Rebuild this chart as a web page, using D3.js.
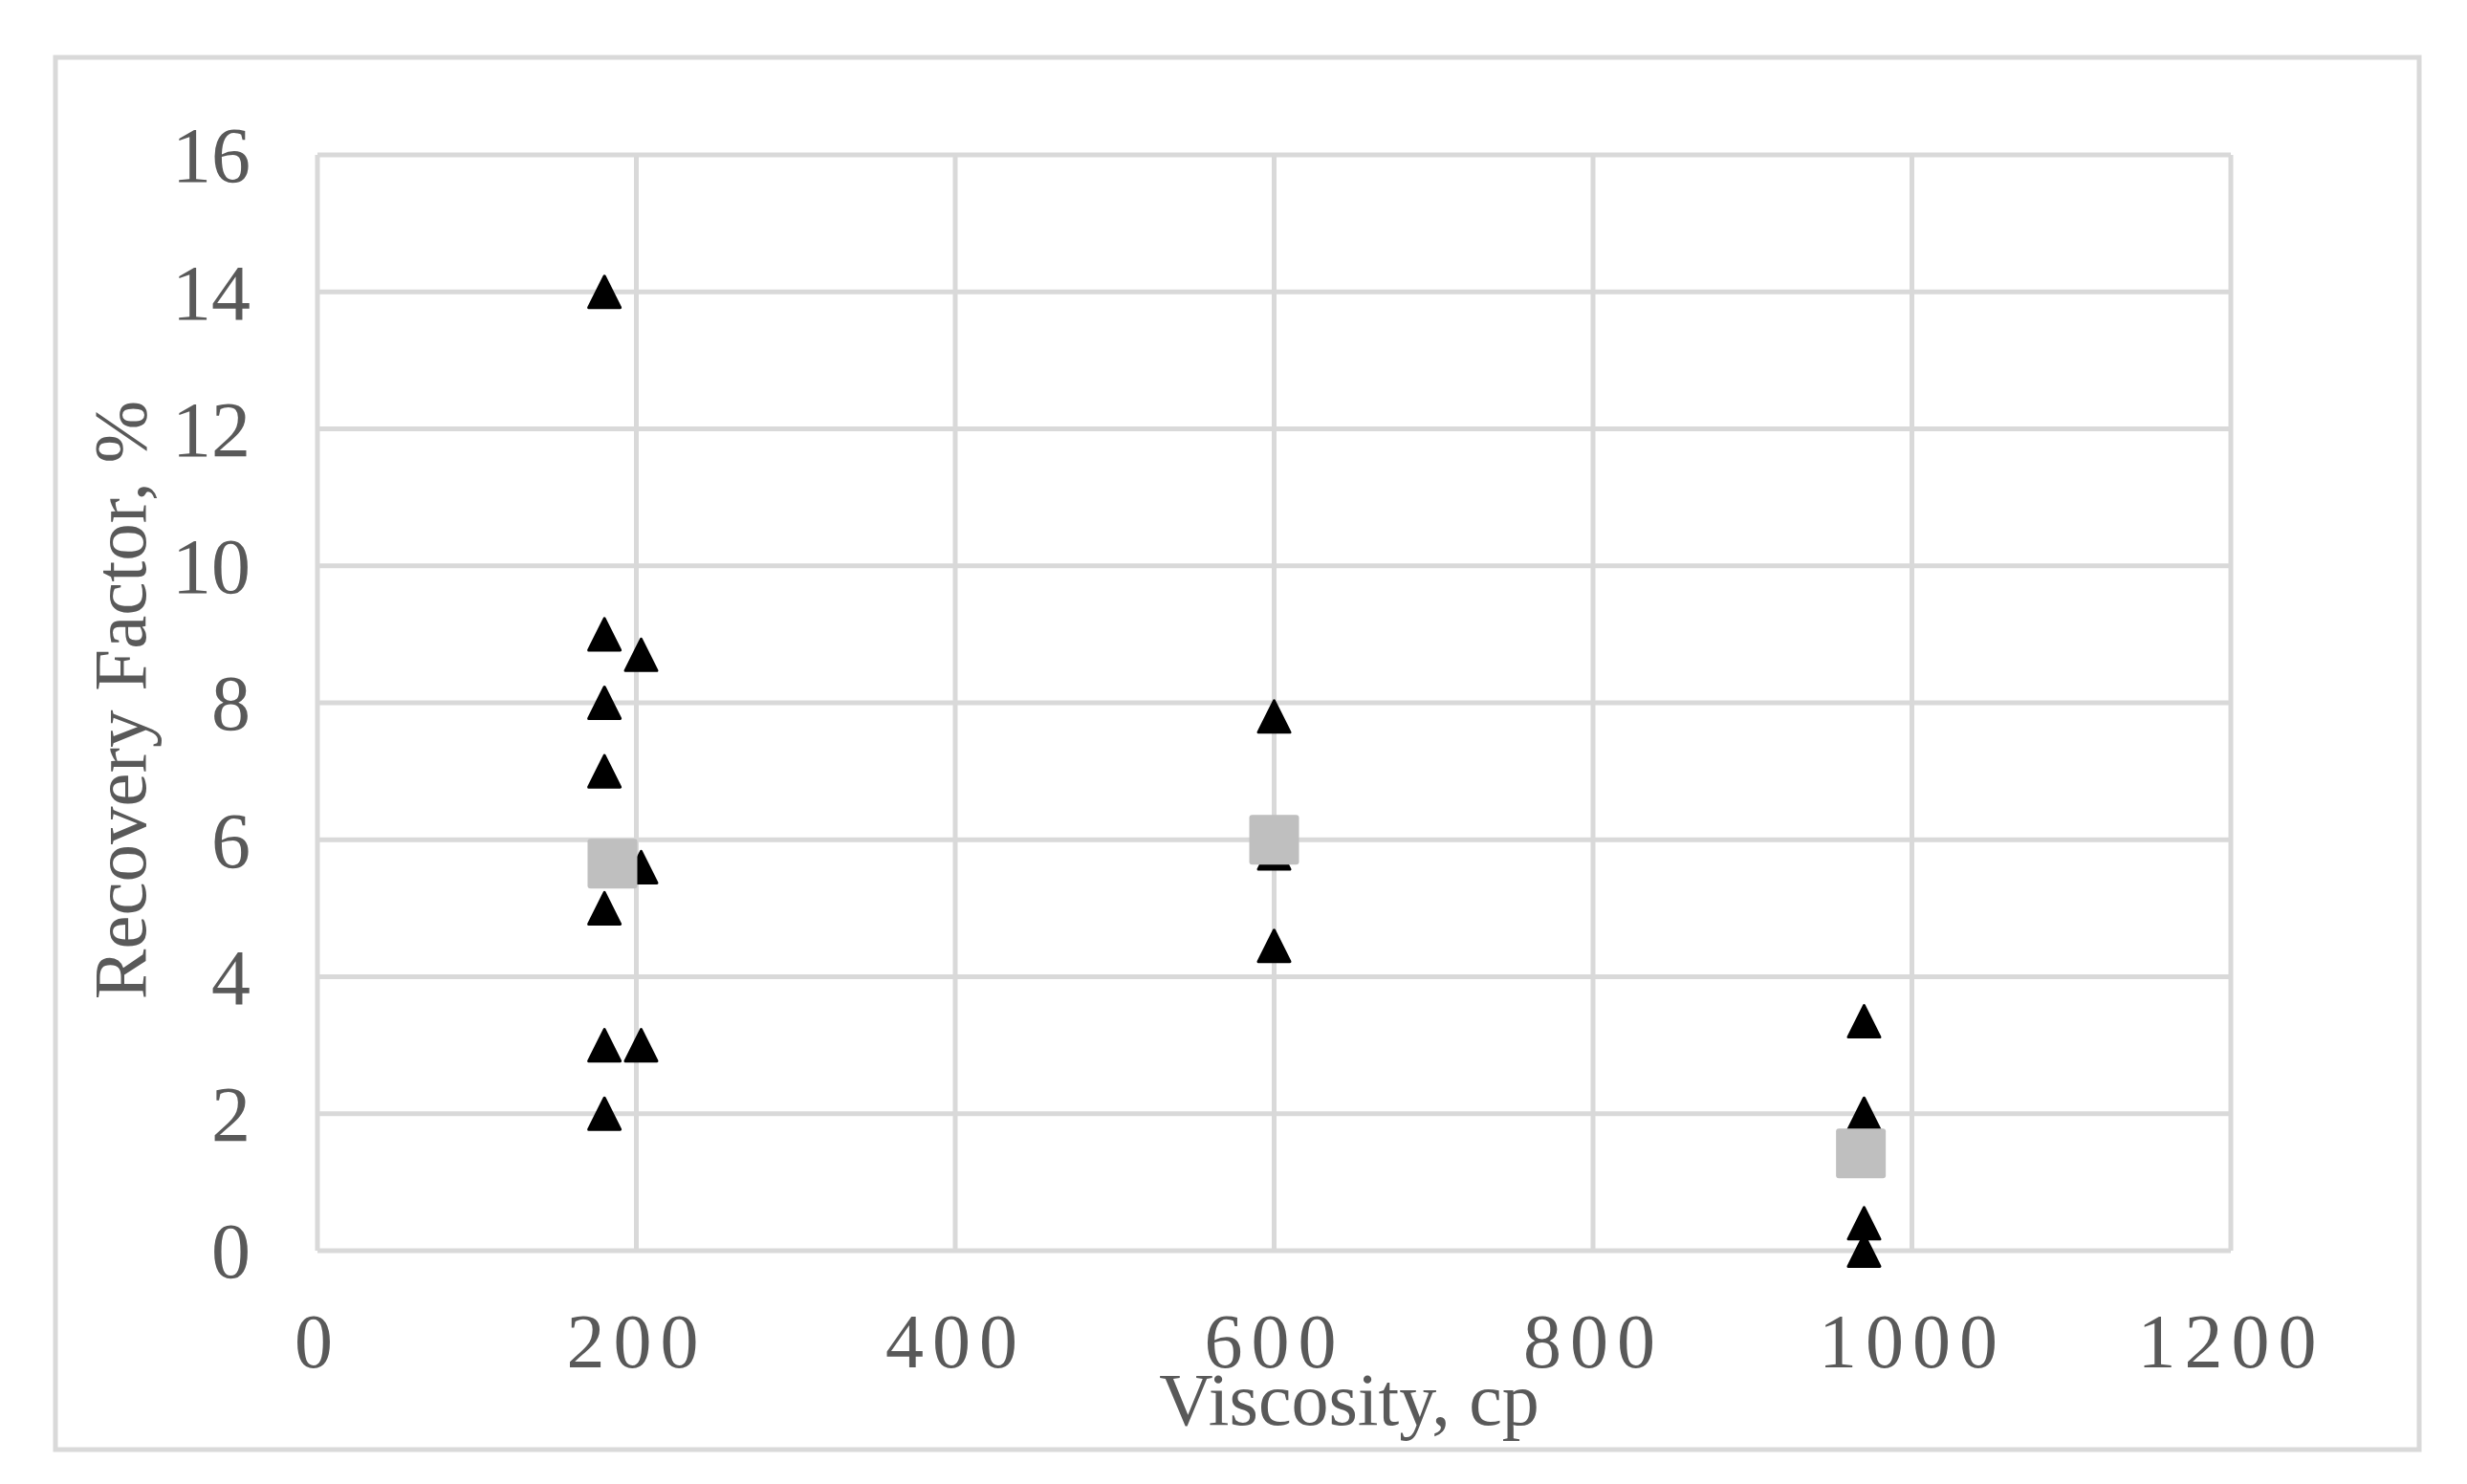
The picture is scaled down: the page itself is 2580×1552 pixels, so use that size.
<!DOCTYPE html>
<html>
<head>
<meta charset="utf-8">
<script src="https://cdn.jsdelivr.net/npm/d3@7"></script>
<style>
  html, body { margin: 0; padding: 0; background: #ffffff; }
  svg { display: block; }
  text { font-family: "Liberation Serif", "Times New Roman", serif; fill: #595959; }
</style>
</head>
<body>
<svg id="chart" width="2580" height="1552"></svg>
<script>
// ---- data ----
const triViscosity = [180, 180, 180, 180, 180, 180, 180, 203, 203, 203, 600, 600, 600, 970, 970, 970, 970];
const triRecovery  = [14, 9, 8, 7, 5, 3, 2, 8.7, 5.6, 3, 7.8, 5.8, 4.45, 3.35, 2.0, 0.4, 0];
const avgViscosity = [185, 600, 968];
const avgRecovery  = [5.65, 6.0, 1.42];
const xTicks = [0, 200, 400, 600, 800, 1000, 1200];
const yTicks = [0, 2, 4, 6, 8, 10, 12, 14, 16];
const xTitle = "Viscosity, cp";
const yTitle = "Recovery Factor, %";

// ---- layout ----
const W = 2580, H = 1552;
const plot = { left: 332, right: 2333, top: 162, bottom: 1308 };
const gridColor = "#d9d9d9";

const svg = d3.select("#chart");
svg.append("rect").attr("width", W).attr("height", H).attr("fill", "#ffffff");

// outer chart border
svg.append("rect")
  .attr("x", 58).attr("y", 60)
  .attr("width", 2530 - 58).attr("height", 1516 - 60)
  .attr("fill", "none").attr("stroke", gridColor).attr("stroke-width", 5);

const x = d3.scaleLinear().domain([0, 1200]).range([plot.left, plot.right]);
const y = d3.scaleLinear().domain([0, 16]).range([plot.bottom, plot.top]);

// gridlines
const grid = svg.append("g");
grid.selectAll("line.h").data(yTicks).join("line")
  .attr("x1", plot.left).attr("x2", plot.right)
  .attr("y1", d => y(d)).attr("y2", d => y(d))
  .attr("stroke", gridColor).attr("stroke-width", 5);
grid.selectAll("line.v").data(xTicks).join("line")
  .attr("y1", plot.top).attr("y2", plot.bottom)
  .attr("x1", d => x(d)).attr("x2", d => x(d))
  .attr("stroke", gridColor).attr("stroke-width", 5);

// axes (labels only)
const xAxis = svg.append("g").attr("transform", `translate(0,${plot.bottom})`)
  .call(d3.axisBottom(x).tickValues(xTicks).tickSize(0).tickFormat(d3.format("d")));
xAxis.select(".domain").remove();
xAxis.selectAll("text")
  .attr("y", 122).attr("dy", 0)
  .style("font-size", "80px").style("letter-spacing", "9px")
  .attr("fill", "#595959");

const yAxis = svg.append("g").attr("transform", `translate(${plot.left},0)`)
  .call(d3.axisLeft(y).tickValues(yTicks).tickSize(0).tickPadding(70).tickFormat(d3.format("d")));
yAxis.select(".domain").remove();
yAxis.selectAll("text")
  .attr("dy", "0.34em")
  .style("font-size", "82px")
  .attr("fill", "#595959");

// axis titles
svg.append("text")
  .attr("x", 1411).attr("y", 1490)
  .attr("text-anchor", "middle")
  .style("font-size", "78px")
  .text(xTitle);

svg.append("text")
  .attr("transform", `translate(152,${(plot.top + plot.bottom) / 2 - 3}) rotate(-90)`)
  .attr("text-anchor", "middle")
  .style("font-size", "79px")
  .text(yTitle);

// triangle markers
const triData = triViscosity.map((v, i) => ({ x: v, y: triRecovery[i] }));
svg.append("g").selectAll("path").data(triData).join("path")
  .attr("transform", d => `translate(${x(d.x)},${y(d.y)})`)
  .attr("d", "M0,-16.5 L16.5,16.5 L-16.5,16.5 Z")
  .attr("fill", "#000000")
  .attr("stroke", "#000000")
  .attr("stroke-width", 3)
  .attr("stroke-linejoin", "round");

// average square markers
const avgData = avgViscosity.map((v, i) => ({ x: v, y: avgRecovery[i] }));
svg.append("g").selectAll("rect").data(avgData).join("rect")
  .attr("x", d => x(d.x) - 26).attr("y", d => y(d.y) - 26)
  .attr("width", 52).attr("height", 52)
  .attr("rx", 3).attr("ry", 3)
  .attr("fill", "#bfbfbf");
</script>
</body>
</html>
